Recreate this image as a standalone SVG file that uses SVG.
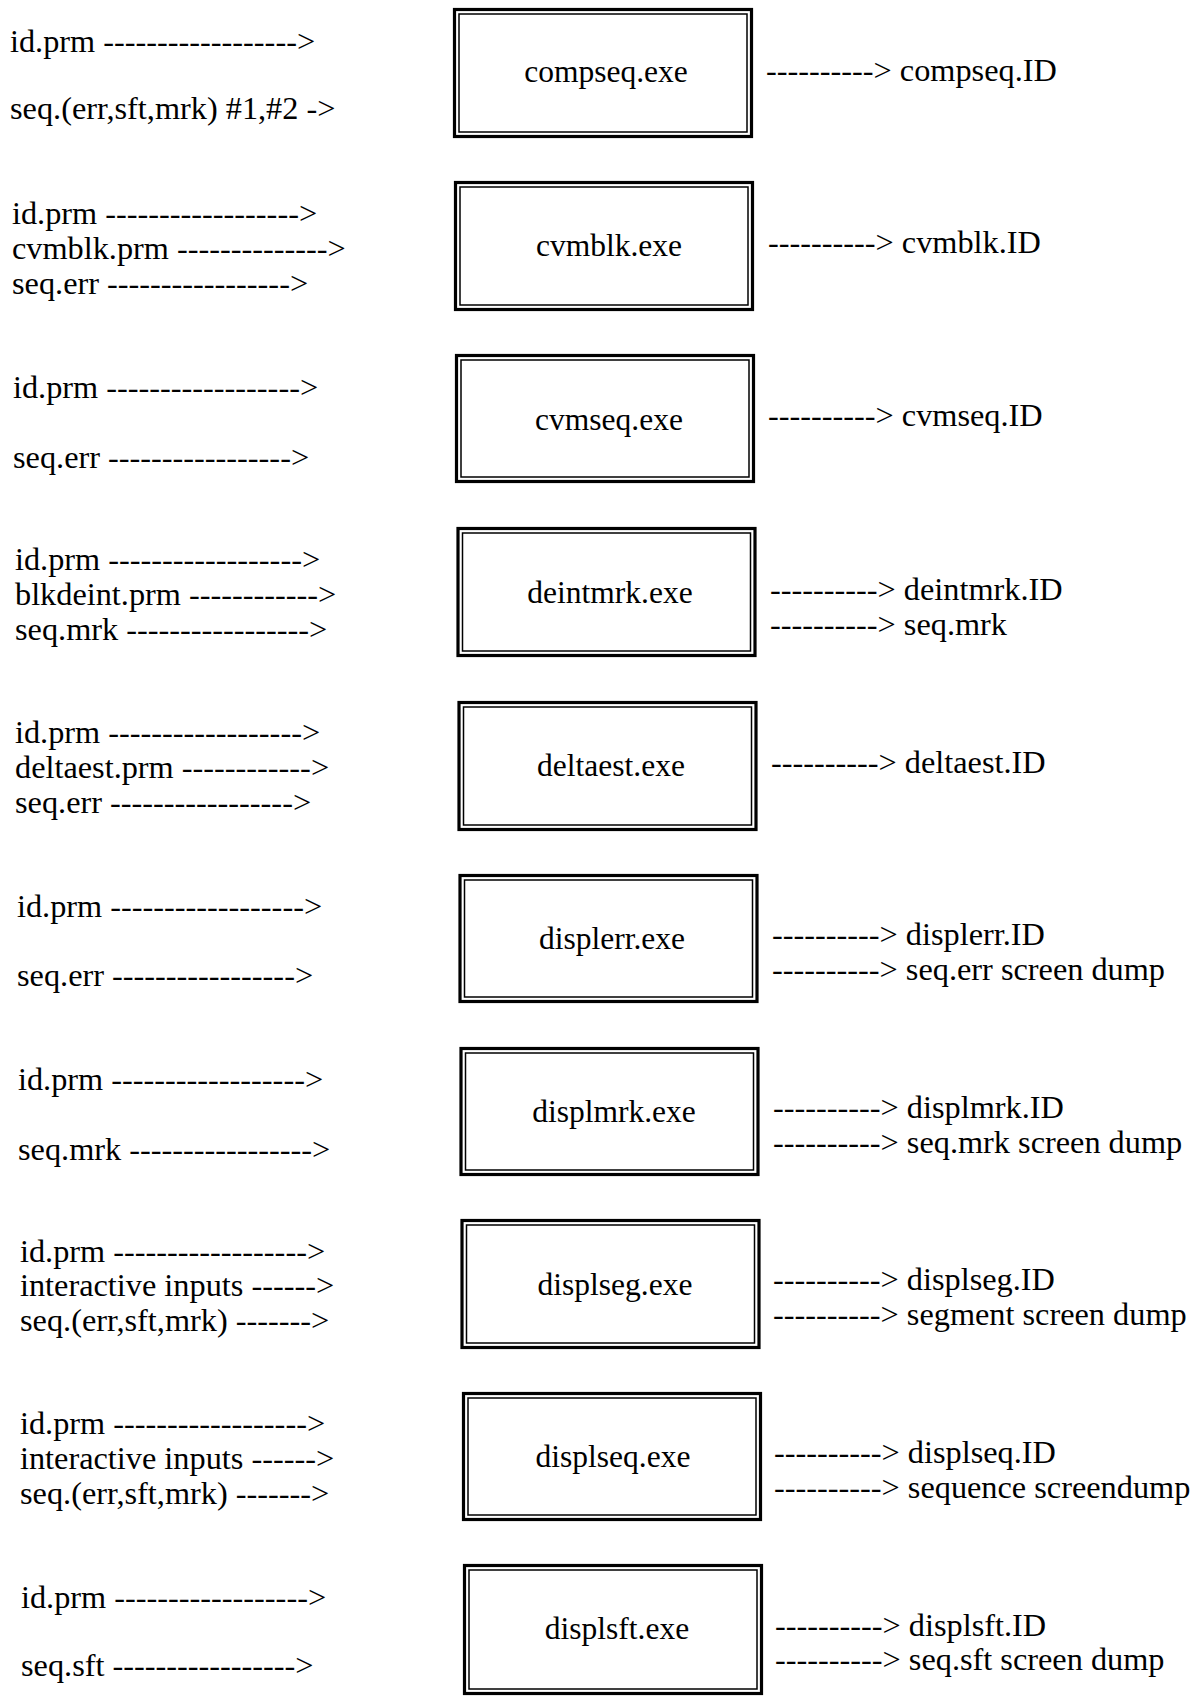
<svg xmlns="http://www.w3.org/2000/svg" width="1199" height="1699" viewBox="0 0 1199 1699">
  <style>
    text { font-family: "Liberation Serif", "Times New Roman", serif; font-size: 32.3px; fill: #000; }
    .lbl { text-anchor: middle; font-size: 31.5px; }
    .outer { fill: none; stroke: #000; stroke-width: 3.2; }
    .inner { fill: none; stroke: #000; stroke-width: 1.5; }
  </style>
  <rect width="1199" height="1699" fill="#fff"/>

  <!-- program boxes (double border) -->
  <g id="compseq">
    <rect class="outer" x="454.5" y="9.5" width="297" height="127"/>
    <rect class="inner" x="459" y="14" width="288" height="118"/>
    <text class="lbl" x="606" y="82">compseq.exe</text>
  </g>
  <g id="cvmblk">
    <rect class="outer" x="455.5" y="182.5" width="297" height="127"/>
    <rect class="inner" x="460" y="187" width="288" height="118"/>
    <text class="lbl" x="609" y="256">cvmblk.exe</text>
  </g>
  <g id="cvmseq">
    <rect class="outer" x="456.5" y="355.5" width="297" height="126"/>
    <rect class="inner" x="461" y="360" width="288" height="117"/>
    <text class="lbl" x="609" y="430">cvmseq.exe</text>
  </g>
  <g id="deintmrk">
    <rect class="outer" x="458" y="528.5" width="297" height="127"/>
    <rect class="inner" x="462.5" y="533" width="288" height="118"/>
    <text class="lbl" x="610" y="603">deintmrk.exe</text>
  </g>
  <g id="deltaest">
    <rect class="outer" x="459" y="702.5" width="297" height="127"/>
    <rect class="inner" x="463.5" y="707" width="288" height="118"/>
    <text class="lbl" x="611" y="776">deltaest.exe</text>
  </g>
  <g id="displerr">
    <rect class="outer" x="460" y="875.5" width="297" height="126"/>
    <rect class="inner" x="464.5" y="880" width="288" height="117"/>
    <text class="lbl" x="612" y="949">displerr.exe</text>
  </g>
  <g id="displmrk">
    <rect class="outer" x="461" y="1048.5" width="297" height="126"/>
    <rect class="inner" x="465.5" y="1053" width="288" height="117"/>
    <text class="lbl" x="614" y="1122">displmrk.exe</text>
  </g>
  <g id="displseg">
    <rect class="outer" x="462" y="1220.5" width="297" height="127"/>
    <rect class="inner" x="466.5" y="1225" width="288" height="118"/>
    <text class="lbl" x="615" y="1295">displseg.exe</text>
  </g>
  <g id="displseq">
    <rect class="outer" x="463.5" y="1393.5" width="297" height="126"/>
    <rect class="inner" x="468" y="1398" width="288" height="117"/>
    <text class="lbl" x="613" y="1467">displseq.exe</text>
  </g>
  <g id="displsft">
    <rect class="outer" x="464.5" y="1565.5" width="297" height="128"/>
    <rect class="inner" x="469" y="1570" width="288" height="119"/>
    <text class="lbl" x="617" y="1639">displsft.exe</text>
  </g>

  <!-- input and output arrows, written as text -->
  <g id="connectors">
    <g id="inputs">
      <text x="10" y="52">id.prm ------------------&gt;</text>
      <text x="10" y="119">seq.(err,sft,mrk) #1,#2 -&gt;</text>

      <text x="12" y="224">id.prm ------------------&gt;</text>
      <text x="12" y="259">cvmblk.prm --------------&gt;</text>
      <text x="12" y="294">seq.err -----------------&gt;</text>

      <text x="13" y="398">id.prm ------------------&gt;</text>
      <text x="13" y="468">seq.err -----------------&gt;</text>

      <text x="15" y="570">id.prm ------------------&gt;</text>
      <text x="15" y="605">blkdeint.prm ------------&gt;</text>
      <text x="15" y="640">seq.mrk -----------------&gt;</text>

      <text x="15" y="743">id.prm ------------------&gt;</text>
      <text x="15" y="778">deltaest.prm ------------&gt;</text>
      <text x="15" y="813">seq.err -----------------&gt;</text>

      <text x="17" y="917">id.prm ------------------&gt;</text>
      <text x="17" y="986">seq.err -----------------&gt;</text>

      <text x="18" y="1090">id.prm ------------------&gt;</text>
      <text x="18" y="1160">seq.mrk -----------------&gt;</text>

      <text x="20" y="1262">id.prm ------------------&gt;</text>
      <text x="20" y="1296">interactive inputs ------&gt;</text>
      <text x="20" y="1331">seq.(err,sft,mrk) -------&gt;</text>

      <text x="20" y="1434">id.prm ------------------&gt;</text>
      <text x="20" y="1469">interactive inputs ------&gt;</text>
      <text x="20" y="1504">seq.(err,sft,mrk) -------&gt;</text>

      <text x="21" y="1608">id.prm ------------------&gt;</text>
      <text x="21" y="1676">seq.sft -----------------&gt;</text>
    </g>
    <g id="outputs">
      <text x="766" y="81">----------&gt; compseq.ID</text>
      <text x="768" y="253">----------&gt; cvmblk.ID</text>
      <text x="768" y="426">----------&gt; cvmseq.ID</text>
      <text x="770" y="600">----------&gt; deintmrk.ID</text>
      <text x="770" y="635">----------&gt; seq.mrk</text>
      <text x="771" y="773">----------&gt; deltaest.ID</text>
      <text x="772" y="945">----------&gt; displerr.ID</text>
      <text x="772" y="980">----------&gt; seq.err screen dump</text>
      <text x="773" y="1118">----------&gt; displmrk.ID</text>
      <text x="773" y="1153">----------&gt; seq.mrk screen dump</text>
      <text x="773" y="1290">----------&gt; displseg.ID</text>
      <text x="773" y="1325">----------&gt; segment screen dump</text>
      <text x="774" y="1463">----------&gt; displseq.ID</text>
      <text x="774" y="1498">----------&gt; sequence screendump</text>
      <text x="775" y="1636">----------&gt; displsft.ID</text>
      <text x="775" y="1670">----------&gt; seq.sft screen dump</text>
    </g>
  </g>
</svg>
